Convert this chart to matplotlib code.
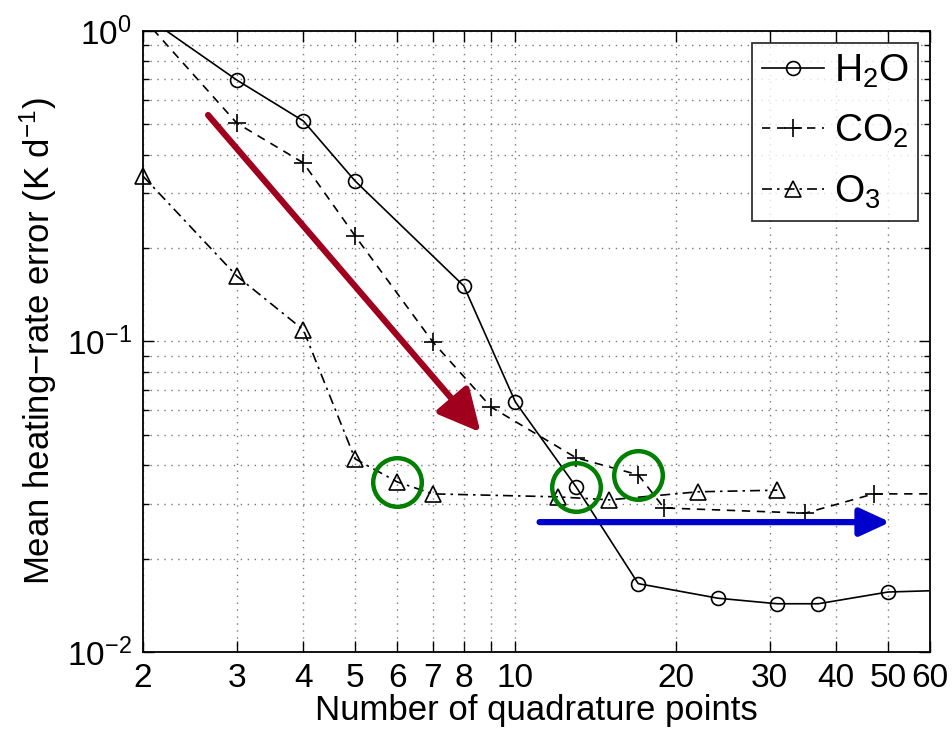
import numpy as np
import matplotlib
matplotlib.use('Agg')
import matplotlib.pyplot as plt
from matplotlib.ticker import FixedLocator, FixedFormatter, NullFormatter, LogLocator

plt.rcParams['font.family'] = ['Liberation Sans', 'DejaVu Sans']
plt.rcParams['mathtext.fontset'] = 'custom'
plt.rcParams['mathtext.rm'] = 'Liberation Sans'
plt.rcParams['mathtext.it'] = 'Liberation Sans'

# data
h2o_n = [2, 3, 4, 5, 8, 10, 13, 17, 24, 31, 37, 50, 64]
h2o_err = [1.13, 0.695, 0.513, 0.329, 0.151, 0.0638, 0.034, 0.0166, 0.0149, 0.0143, 0.0143, 0.0156, 0.0158]

co2_n = [2, 3, 4, 5, 7, 9, 13, 17, 19, 35, 47, 64]
co2_err = [1.1, 0.505, 0.376, 0.219, 0.0996, 0.0615, 0.0422, 0.0372, 0.0291, 0.028, 0.0323, 0.0323]

o3_n = [2, 3, 4, 5, 6, 7, 12, 15, 22, 31]
o3_err = [0.341, 0.1625, 0.109, 0.0419, 0.0353, 0.0323, 0.0316, 0.0309, 0.0328, 0.0332]

# highlighted points (green circles)
hl_n = [6, 13, 17]
hl_err = [0.0353, 0.034, 0.0372]

# arrows (start, end) in data coordinates
red_arrow = ((2.65, 0.536), (8.6, 0.051))
blue_arrow = ((11.1, 0.0262), (50.5, 0.0262))

xticks = [2, 3, 4, 5, 6, 7, 8, 9, 10, 20, 30, 40, 50, 60]
xticklabels = ['2', '3', '4', '5', '6', '7', '8', '', '10', '20', '30', '40', '50', '60']

fig = plt.figure(figsize=(9.53, 7.32), dpi=100)
ax = fig.add_axes([0.150, 0.1093, 0.826, 0.8484])

ax.plot(h2o_n, h2o_err, '-', color='k', lw=1.2, marker='o', ms=10, mfc='none', mew=1.2, label='H$_2$O')
ax.plot(co2_n, co2_err, '--', color='k', lw=1.2, marker='+', ms=13, mew=1.2, label='CO$_2$', dashes=(5, 4))
ax.plot(o3_n, o3_err, '-.', color='k', lw=1.2, marker='^', ms=11, mfc='none', mew=1.2, label='O$_3$',
        clip_on=False, dashes=(6, 3, 1.5, 3))

ax.plot(hl_n, hl_err, 'o', ms=35, mfc='none', mec='#008000', mew=3.2, zorder=5)

ax.annotate('', xy=red_arrow[1], xytext=red_arrow[0],
            arrowprops=dict(arrowstyle='-|>,head_length=1.5,head_width=0.75', lw=4.5, color='#a0001e',
                            shrinkA=0, shrinkB=0, mutation_scale=17))
ax.annotate('', xy=blue_arrow[1], xytext=blue_arrow[0],
            arrowprops=dict(arrowstyle='-|>,head_length=1.3,head_width=0.6', lw=4.5, color='#0000cc',
                            shrinkA=0, shrinkB=0, mutation_scale=14))

ax.set_xscale('log')
ax.set_yscale('log')
ax.set_xlim(2, 60)
ax.set_ylim(1e-2, 1e0)

ax.xaxis.set_major_locator(FixedLocator(xticks))
ax.xaxis.set_major_formatter(FixedFormatter(xticklabels))
ax.xaxis.set_minor_locator(FixedLocator([]))
ax.yaxis.set_major_locator(LogLocator(base=10))
ax.yaxis.set_minor_locator(LogLocator(base=10, subs=np.arange(2, 10)))
ax.yaxis.set_minor_formatter(NullFormatter())

ax.grid(True, which='major', ls=(0, (1, 4)), color='#777777', lw=1.0)
ax.grid(True, which='minor', axis='y', ls=(0, (1, 4)), color='#777777', lw=1.0)

ax.tick_params(which='both', direction='in', top=True, right=True, labelsize=24, width=1.0)
ax.tick_params(which='major', length=8, pad=8)
ax.tick_params(which='minor', length=4)
for sp in ax.spines.values():
    sp.set_linewidth(1.3)

ax.set_xlabel('Number of quadrature points', fontsize=25, labelpad=0)
ax.set_ylabel('Mean heating\u2212rate error (K d$^{-1}$)', fontsize=25, labelpad=6)

leg = ax.legend(loc='upper right', fontsize=28, frameon=True, fancybox=False, edgecolor='k',
                handlelength=1.6, handletextpad=0.25, borderpad=0.25, labelspacing=0.6,
                borderaxespad=0.3)
leg.get_frame().set_linewidth(1.3)

fig.savefig('out.png', dpi=100)
